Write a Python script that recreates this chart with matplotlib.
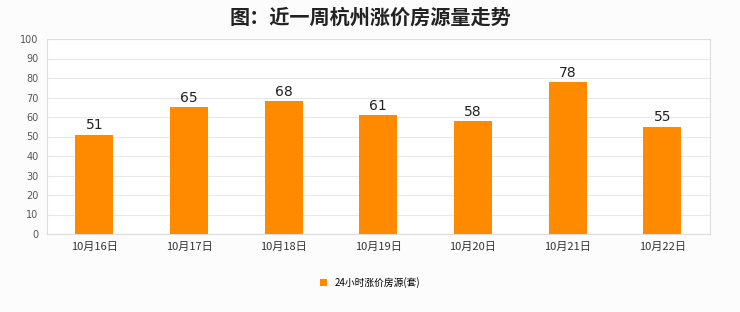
import matplotlib.pyplot as plt

plt.rcParams['font.family'] = ['Noto Sans CJK SC', 'DejaVu Sans']

dates = ['10月16日', '10月17日', '10月18日', '10月19日', '10月20日', '10月21日', '10月22日']
counts = [51, 65, 68, 61, 58, 78, 55]
yticks = [0, 10, 20, 30, 40, 50, 60, 70, 80, 90, 100]

fig = plt.figure(figsize=(7.4, 3.12), dpi=100, facecolor='#fcfcfc')
ax = fig.add_axes([0.0635, 0.25, 0.8955, 0.625], facecolor='white')

x = range(len(dates))
bars = ax.bar(x, counts, width=0.4, color='#ff8a00', label='24小时涨价房源(套)', zorder=3)
for xi, v in zip(x, counts):
    ax.text(xi, v + 1.2, str(v), ha='center', va='bottom', fontsize=10,
            color='#222222', family='DejaVu Sans')

ax.set_xlim(-0.5, len(dates) - 0.5)
ax.set_ylim(0, 100)
ax.set_yticks(yticks)
ax.set_yticklabels([str(t) for t in yticks], family='DejaVu Sans')
ax.set_xticks(list(x))
ax.set_xticklabels(dates, fontsize=8, color='#333333')
ax.tick_params(axis='y', labelsize=7, colors='#555555', length=0, pad=6)
ax.tick_params(axis='x', length=0, pad=6)
ax.grid(axis='y', color='#e8e8e8', linewidth=0.8, zorder=0)
for s in ax.spines.values():
    s.set_color('#dddddd')
    s.set_linewidth(0.8)

fig.suptitle('图：近一周杭州涨价房源量走势', fontsize=14.5, fontweight='bold', y=0.98, color='#222222')

fig.legend(handles=[bars], loc='center', bbox_to_anchor=(0.5, 0.095), frameon=False,
           handlelength=0.7, handleheight=0.7, prop={'size': 7})

fig.savefig('out.png', dpi=100, facecolor=fig.get_facecolor())
